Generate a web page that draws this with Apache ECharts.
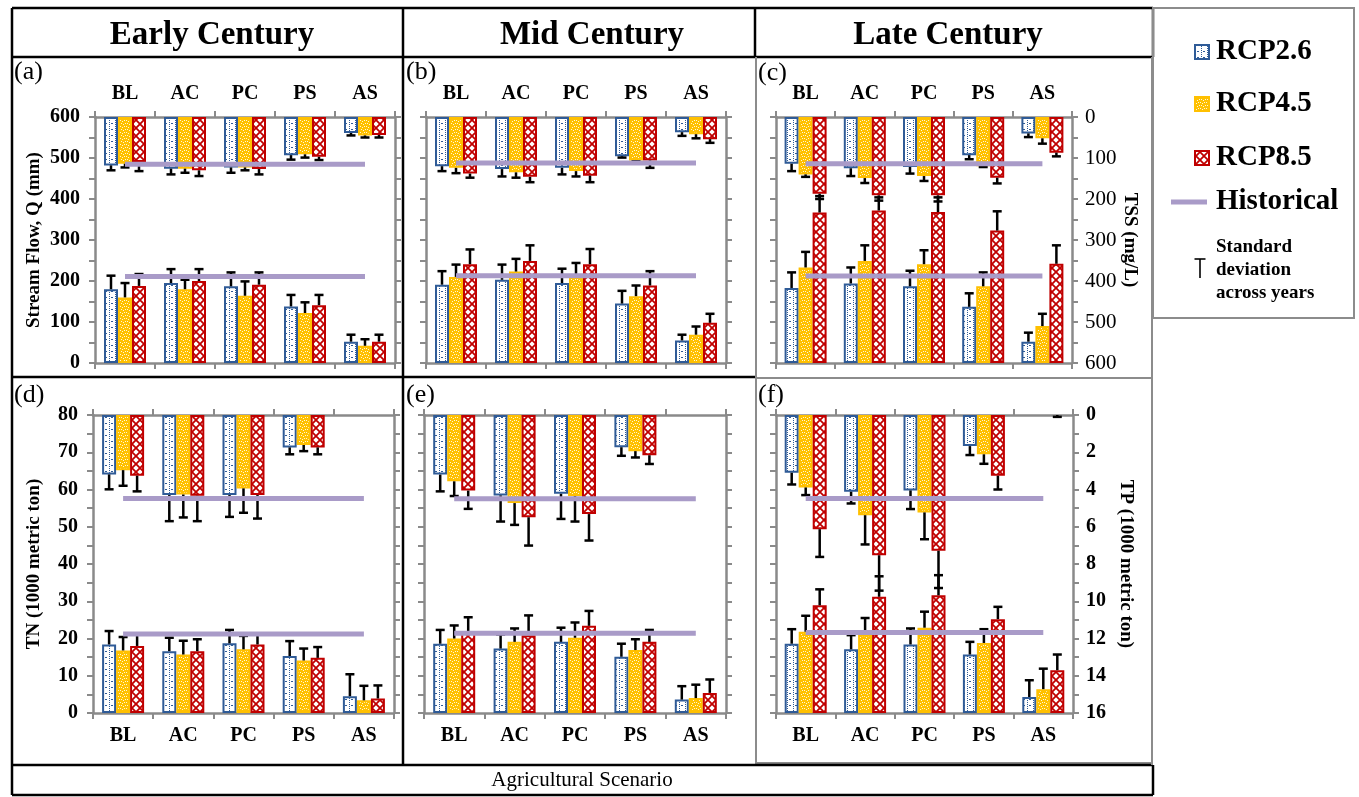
<!DOCTYPE html>
<html><head><meta charset="utf-8">
<script src="https://cdn.jsdelivr.net/npm/echarts@6/dist/echarts.min.js"></script>
<style>html,body{margin:0;padding:0;background:#fff}#c{width:1359px;height:797px}</style>
</head><body><div id="c"></div>
<script>
// ---------------- DATA ----------------
const CATEGORIES = ['BL','AC','PC','PS','AS'];
const RCP_NAMES = ['RCP2.6','RCP4.5','RCP8.5'];
const PERIODS = ['Early Century','Mid Century','Late Century'];
const PANEL_LETTERS = ['(a)','(b)','(c)','(d)','(e)','(f)'];
// rows of each array: RCP2.6, RCP4.5, RCP8.5 ; columns follow CATEGORIES
// Stream flow Q (mm) - bars from bottom, left axis
const qEarly = [[180,195,187,138,52],[160,180,164,122,42],[188,200,191,141,52]];
const qEarlySd = [[33,34,34,28,17],[35,23,35,26,16],[29,29,30,25,17]];
const qMid = [[191,203,195,145,55],[210,223,210,163,69],[241,249,241,189,98]];
const qMidSd = [[33,37,35,31,14],[30,31,34,26,20],[36,38,37,35,22]];
const qLate = [[183,194,187,137,52],[233,249,241,187,90],[367,372,368,323,242]];
const qLateSd = [[38,39,38,33,22],[38,38,34,34,30],[40,32,36,47,45]];
// TSS (mg/L) - bars hanging from top, right inverted axis
const tssEarly = [[118,126,123,93,39],[114,126,123,91,45],[110,130,127,97,44]];
const tssEarlySd = [[12,14,13,11,6],[9,10,7,8,5],[22,14,13,8,6]];
const tssMid = [[120,127,124,96,37],[124,135,132,106,42],[138,146,143,106,54]];
const tssMidSd = [[12,18,16,3,9],[13,13,13,2,10],[10,13,16,18,9]];
const tssLate = [[114,125,122,93,40],[140,149,144,120,52],[187,191,191,148,87]];
const tssLateSd = [[18,19,16,10,9],[6,12,12,2,13],[13,13,15,14,9]];
// TN (1000 metric ton) - bars from bottom, left axis
const tnEarly = [[18.4,16.6,18.7,15.3,4.5],[16.8,15.7,17.1,14.1,3.4],[18.0,16.6,18.4,14.8,3.9]];
const tnEarlySd = [[3.6,3.6,3.6,4.0,5.9],[3.6,3.7,3.6,3.2,3.9],[3.0,3.2,2.6,2.9,3.5]];
const tnMid = [[18.6,17.3,19.1,15.1,3.6],[20.0,19.1,20.2,16.9,4.0],[21.6,20.9,23.4,19.1,5.4]];
const tnMidSd = [[3.7,3.8,3.8,3.5,3.6],[3.5,3.6,4.1,2.9,3.6],[4.1,5.3,4.0,3.2,3.6]];
const tnLate = [[18.6,17.1,18.4,15.7,4.3],[21.8,21.0,22.9,18.8,6.4],[28.9,31.2,31.6,25.2,11.5]];
const tnLateSd = [[3.9,3.8,4.3,3.4,4.5],[4.3,4.5,4.3,3.7,5.5],[4.3,5.5,5.4,3.3,4.2]];
// TP (1000 metric ton) - bars hanging from top, right inverted axis
const tpEarly = [[3.19,4.3,4.3,1.74,null],[2.96,4.27,3.94,1.61,null],[3.26,4.34,4.3,1.74,null]];
const tpEarlySd = [[0.8,1.4,1.17,0.37,0],[0.84,1.23,1.31,0.33,0],[0.84,1.36,1.26,0.37,0]];
const tpMid = [[3.2,4.32,4.23,1.73,null],[3.56,4.73,4.35,1.94,null],[4.06,5.49,5.32,2.16,null]];
const tpMidSd = [[0.9,1.4,1.35,0.46,0],[0.79,1.17,1.37,0.34,0],[0.98,1.52,1.42,0.47,0]];
const tpLate = [[3.1,4.12,4.05,1.67,null],[3.89,5.38,5.23,2.11,null],[6.13,7.53,7.29,3.26,null]];
const tpLateSd = [[0.63,0.63,1.0,0.48,0],[0.41,1.57,1.44,0.51,0],[1.49,1.9,2.0,0.74,0.1]];
// Historical values per period
const histQ = [211,213,212];
const histTSS = [115,112,114];
const histTN = [21.2,21.4,21.6];
const histTP = [4.48,4.5,4.48];

// ---------------- STYLE / LAYOUT ----------------
const SERIF = 'Liberation Serif';
const BLUE = '#2f5b97', YELLOW = '#ffc000', RED = '#c00000', HIST = '#a99bc8';
const AXIS_GRAY = '#8a8a8a', BORDER_GRAY = '#8c8c8c';
const BW = 14;

function makePattern(k){
  const c = document.createElement('canvas');
  const x = c.getContext('2d');
  if(k===0){
    c.width=6;c.height=6;
    x.fillStyle='#fff';x.fillRect(0,0,6,6);
    x.fillStyle=BLUE;
    x.fillRect(1,0,1,1);x.fillRect(1,2,1,1);x.fillRect(1,4,1,1);x.fillRect(3,3,2,1);
  } else if(k===1){
    c.width=6;c.height=6;
    x.fillStyle=YELLOW;x.fillRect(0,0,6,6);
    x.fillStyle='#fff8d8';
    x.fillRect(0,0,1,1);x.fillRect(2,1,1,1);x.fillRect(4,0,1,1);
    x.fillRect(1,3,1,1);x.fillRect(3,4,1,1);x.fillRect(5,3,1,1);
  } else {
    c.width=8;c.height=8;
    x.fillStyle='#fff';x.fillRect(0,0,8,8);
    x.strokeStyle=RED;x.lineWidth=1.8;
    x.beginPath();x.moveTo(0,0);x.lineTo(8,8);x.moveTo(8,0);x.lineTo(0,8);x.stroke();
  }
  return {image:c, repeat:'repeat'};
}
const PATTERNS = [makePattern(0),makePattern(1),makePattern(2)];
const EDGE = [BLUE, YELLOW, RED];

const PANELS = [
  {g:[95,117,300,246], b:qEarly, bs:qEarlySd, t:tssEarly, ts:tssEarlySd, hb:histQ[0], ht:histTSS[0], row:0, col:0},
  {g:[426,117,300,246], b:qMid, bs:qMidSd, t:tssMid, ts:tssMidSd, hb:histQ[1], ht:histTSS[1], row:0, col:1},
  {g:[776,117,296,246], b:qLate, bs:qLateSd, t:tssLate, ts:tssLateSd, hb:histQ[2], ht:histTSS[2], row:0, col:2},
  {g:[93,415,301,298], b:tnEarly, bs:tnEarlySd, t:tpEarly, ts:tpEarlySd, hb:histTN[0], ht:histTP[0], row:1, col:0},
  {g:[424,415,302,298], b:tnMid, bs:tnMidSd, t:tpMid, ts:tpMidSd, hb:histTN[1], ht:histTP[1], row:1, col:1},
  {g:[776,415,297,298], b:tnLate, bs:tnLateSd, t:tpLate, ts:tpLateSd, hb:histTN[2], ht:histTP[2], row:1, col:2}
];
const AXES = [
  {bMax:600, bInt:50, bLab:100, tMax:600, tInt:50, tLab:100, bName:'Stream Flow, Q (mm)', tName:'TSS (mg/L)', bGap:51, tGap:44},
  {bMax:80, bInt:5, bLab:10, tMax:16, tInt:1, tLab:2, bName:'TN (1000 metric ton)', tName:'TP (1000 metric ton)', bGap:49, tGap:43}
];

const grids=[], xAxes=[], yAxes=[], series=[];
const lineAxis = {onZero:false, lineStyle:{color:AXIS_GRAY, width:2.5}};
const tickStyle = {show:true, length:6, lineStyle:{color:AXIS_GRAY, width:2}};
const catLabel = (show, margin) => ({show, fontFamily:SERIF, fontWeight:'bold', fontSize:20, color:'#000', margin});

function errorSeries(xi, yi, vals, sds){
  const data=[];
  for(let k=0;k<3;k++) for(let i=0;i<CATEGORIES.length;i++){
    const v=vals[k][i], s=sds[k][i];
    if(v==null && !s) continue;
    const base = v==null?0:v;
    data.push([i, base, base+s, k]);
  }
  return {
    type:'custom', xAxisIndex:xi, yAxisIndex:yi, z:3, silent:true,
    encode:{x:0, y:[1,2]}, data,
    renderItem:(params, api)=>{
      const i=api.value(0), b=api.value(1), e=api.value(2), k=api.value(3);
      const p0=api.coord([i,b]), p1=api.coord([i,e]);
      const xx=p0[0]+(k-1)*BW;
      const st={stroke:'#000', lineWidth:2.5};
      return {type:'group', children:[
        {type:'line', shape:{x1:xx,y1:p0[1],x2:xx,y2:p1[1]}, style:st},
        {type:'line', shape:{x1:xx-4.5,y1:p1[1],x2:xx+4.5,y2:p1[1]}, style:st}
      ]};
    }
  };
}

PANELS.forEach((p,pi)=>{
  const ax = AXES[p.row];
  grids.push({left:p.g[0], top:p.g[1], width:p.g[2], height:p.g[3], containLabel:false});
  const xb=xAxes.length, xt=xb+1, yb=yAxes.length, yt=yb+1;
  xAxes.push({type:'category', gridIndex:pi, data:CATEGORIES, position:'bottom',
    axisLine:lineAxis, axisTick:tickStyle, axisLabel:catLabel(p.row===1, 13)});
  xAxes.push({type:'category', gridIndex:pi, data:CATEGORIES, position:'top',
    axisLine:lineAxis, axisTick:tickStyle, axisLabel:catLabel(p.row===0, 13)});
  yAxes.push({type:'value', gridIndex:pi, position:'left', min:0, max:ax.bMax, interval:ax.bInt,
    axisLine:{show:true, lineStyle:{color:AXIS_GRAY, width:2.5}}, axisTick:{show:true, length:6, lineStyle:{color:AXIS_GRAY, width:2}},
    splitLine:{show:false},
    axisLabel:{show:p.col===0, margin:15, fontFamily:SERIF, fontWeight:'bold', fontSize:20, color:'#000',
      formatter:v=> (Math.abs(v/ax.bLab-Math.round(v/ax.bLab))<1e-6)? String(v):''},
    name:p.col===0?ax.bName:'', nameLocation:'middle', nameGap:ax.bGap,
    nameTextStyle:{fontFamily:SERIF, fontWeight:'bold', fontSize:19, color:'#000'}});
  yAxes.push({type:'value', gridIndex:pi, position:'right', inverse:true, min:0, max:ax.tMax, interval:ax.tInt,
    axisLine:{show:true, lineStyle:{color:AXIS_GRAY, width:2.5}}, axisTick:{show:true, length:6, lineStyle:{color:AXIS_GRAY, width:2}},
    splitLine:{show:false},
    axisLabel:{show:p.col===2, margin:13, fontFamily:SERIF, fontWeight:p.row===0?'normal':'bold', fontSize:p.row===0?21:20, color:'#000',
      formatter:v=> (Math.abs(v/ax.tLab-Math.round(v/ax.tLab))<1e-6)? String(v):''},
    name:p.col===2?ax.tName:'', nameLocation:'middle', nameRotate:-90, nameGap:ax.tGap,
    nameTextStyle:{fontFamily:SERIF, fontWeight:'bold', fontSize:19, color:'#000'}});
  for(let k=0;k<3;k++){
    series.push({type:'bar', name:RCP_NAMES[k], xAxisIndex:xb, yAxisIndex:yb, data:p.b[k], barWidth:BW, barGap:'0%', z:2,
      itemStyle:{color:PATTERNS[k], borderColor:EDGE[k], borderWidth:2}});
  }
  for(let k=0;k<3;k++){
    series.push({type:'bar', name:RCP_NAMES[k], xAxisIndex:xt, yAxisIndex:yt, data:p.t[k], barWidth:BW, barGap:'0%', z:2,
      itemStyle:{color:PATTERNS[k], borderColor:EDGE[k], borderWidth:2}});
  }
  series.push(errorSeries(xb, yb, p.b, p.bs));
  series.push(errorSeries(xt, yt, p.t, p.ts));
  series.push({type:'line', name:'Historical', xAxisIndex:xb, yAxisIndex:yb, data:CATEGORIES.map(()=>p.hb), symbol:'none', z:4,
    lineStyle:{color:HIST, width:5}, silent:true});
  series.push({type:'line', name:'Historical', xAxisIndex:xt, yAxisIndex:yt, data:CATEGORIES.map(()=>p.ht), symbol:'none', z:4,
    lineStyle:{color:HIST, width:5}, silent:true});
});

// ---------------- FRAME, TITLES, LEGEND ----------------
const G=[];
const L=(x1,y1,x2,y2,c,w)=>G.push({type:'line', shape:{x1,y1,x2,y2}, style:{stroke:c, lineWidth:w}, z:10});
const K='#000';
L(12,8,1153,8,K,2.5); L(12,8,12,795,K,2.5); L(12,795,1153,795,K,2.5);
L(12,57,1153,57,K,2.5);
L(403,8,403,765,K,2.5);
L(755,8,755,57,K,2.5);
L(12,377,755,377,K,2.5);
L(756,57,756,765,BORDER_GRAY,2);
L(756,378,1152,378,BORDER_GRAY,2);
L(756,763,1152,763,BORDER_GRAY,2);
L(12,765,1153,765,K,2.5);
L(1153,8,1153,57,K,2.5); L(1153,765,1153,795,K,2.5);
L(1152,57,1152,765,BORDER_GRAY,2);
// legend box
G.push({type:'rect', shape:{x:1153,y:8,width:201,height:310}, style:{fill:'none', stroke:BORDER_GRAY, lineWidth:2}, z:10});

const T=(text,x,y,font,align)=>G.push({type:'text', x, y, z:11,
  style:{text, font, fill:'#000', align:align||'center', verticalAlign:'middle'}});
const periodX=[212,592,948];
PERIODS.forEach((t,i)=>T(t, periodX[i], 35, `bold 33px "${SERIF}"`));
const letterPos=[[14,72],[406,72],[758,73],[14,395],[406,395],[758,395]];
PANEL_LETTERS.forEach((t,i)=>T(t, letterPos[i][0], letterPos[i][1], `26px "${SERIF}"`, 'left'));
T('Agricultural Scenario', 582, 780, `21px "${SERIF}"`);

const legY=[52,104,158];
RCP_NAMES.forEach((n,k)=>{
  G.push({type:'rect', shape:{x:1195,y:legY[k]-7,width:14,height:14}, style:{fill:PATTERNS[k], stroke:EDGE[k], lineWidth:2}, z:11});
  T(n, 1216, legY[k], `bold 29px "${SERIF}"`, 'left');
});
G.push({type:'line', shape:{x1:1171,y1:202,x2:1207,y2:202}, style:{stroke:HIST, lineWidth:5}, z:11});
T('Historical', 1216, 202, `bold 29px "${SERIF}"`, 'left');
G.push({type:'line', shape:{x1:1200,y1:259,x2:1200,y2:278}, style:{stroke:'#000', lineWidth:1.6}, z:11});
G.push({type:'line', shape:{x1:1194.5,y1:259,x2:1205.5,y2:259}, style:{stroke:'#000', lineWidth:1.6}, z:11});
T('Standard', 1216, 247, `bold 19px "${SERIF}"`, 'left');
T('deviation', 1216, 270, `bold 19px "${SERIF}"`, 'left');
T('across years', 1216, 293, `bold 19px "${SERIF}"`, 'left');

const chart = echarts.init(document.getElementById('c'), null, {renderer:'canvas'});
chart.setOption({
  animation:false,
  backgroundColor:'#fff',
  grid:grids, xAxis:xAxes, yAxis:yAxes, series, graphic:G
});
</script></body></html>
